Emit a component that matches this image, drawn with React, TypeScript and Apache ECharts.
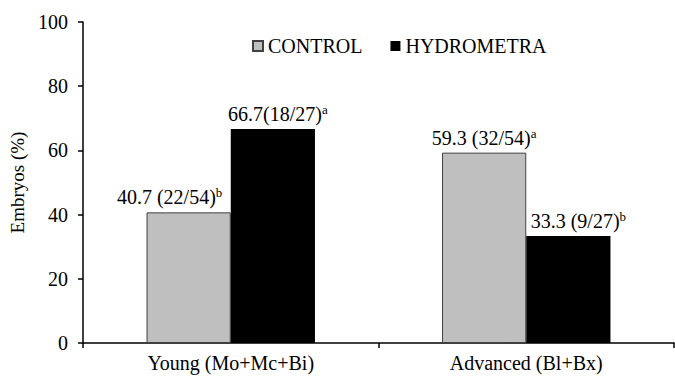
import React, { useEffect, useRef } from "react";
import * as echarts from "echarts";

const categories = ["Young (Mo+Mc+Bi)", "Advanced (Bl+Bx)"];
const controlValues = [40.7, 59.3];
const hydroValues = [66.7, 33.3];
const controlLabels = ["40.7 (22/54)", "59.3 (32/54)"];
const controlSup = ["b", "a"];
const hydroLabels = ["66.7(18/27)", "33.3 (9/27)"];
const hydroSup = ["a", "b"];
const yTicks = { min: 0, max: 100, interval: 20 };

// label horizontal nudges (style only)
const controlDx = [-19, 0];
const hydroDx = [5, 10];

const FONT = "Liberation Serif";
const CSS = `#root svg text, #root svg tspan { font-family: "Liberation Serif", "Times New Roman", serif !important; }`;

export default function App() {
  const ref = useRef<HTMLDivElement>(null);
  useEffect(() => {
    if (!ref.current) return;
    const chart = echarts.init(ref.current, undefined, { renderer: "svg" });
    const rich = {
      m: { fontSize: 20, fontFamily: FONT, color: "#000" },
      s: { fontSize: 13, fontFamily: FONT, color: "#000", padding: [0, 0, 9, 0] },
    };
    chart.setOption({
      animation: false,
      grid: { left: 83, right: 1, top: 22, bottom: 33 },
      legend: {
        left: 252,
        top: 36,
        padding: 0,
        itemWidth: 10,
        itemHeight: 10,
        itemGap: 28,
        icon: "rect",
        textStyle: { fontSize: 20, fontFamily: FONT, color: "#000" },
        data: ["CONTROL", "HYDROMETRA"],
      },
      xAxis: {
        type: "category",
        data: categories,
        axisLine: { lineStyle: { color: "#000", width: 1.5 } },
        axisTick: { show: true, length: 5, lineStyle: { color: "#000", width: 1.5 } },
        axisLabel: { fontSize: 20, fontFamily: FONT, color: "#000", margin: 10 },
      },
      yAxis: {
        type: "value",
        min: yTicks.min,
        max: yTicks.max,
        interval: yTicks.interval,
        name: "Embryos (%)",
        nameLocation: "middle",
        nameGap: 56,
        nameTextStyle: { fontSize: 19, fontFamily: FONT, color: "#000" },
        splitLine: { show: false },
        axisLine: { show: true, lineStyle: { color: "#000", width: 1.5 } },
        axisTick: { show: true, length: 5, lineStyle: { color: "#000", width: 1.5 } },
        axisLabel: { fontSize: 20, fontFamily: FONT, color: "#000", margin: 15 },
      },
      series: [
        {
          name: "CONTROL",
          type: "bar",
          data: controlValues.map((v, i) => ({ value: v, label: { offset: [controlDx[i], 0] } })),
          barGap: "0%",
          barCategoryGap: "43%",
          itemStyle: { color: "#bfbfbf", borderColor: "#404040", borderWidth: 1 },
          label: {
            show: true,
            position: "top",
            distance: 4,
            color: "#000",
            fontFamily: FONT,
            formatter: (p: any) => `{m|${controlLabels[p.dataIndex]}}{s|${controlSup[p.dataIndex]}}`,
            rich,
          },
        },
        {
          name: "HYDROMETRA",
          type: "bar",
          data: hydroValues.map((v, i) => ({ value: v, label: { offset: [hydroDx[i], 0] } })),
          itemStyle: { color: "#000" },
          label: {
            show: true,
            position: "top",
            distance: 4,
            color: "#000",
            fontFamily: FONT,
            formatter: (p: any) => `{m|${hydroLabels[p.dataIndex]}}{s|${hydroSup[p.dataIndex]}}`,
            rich,
          },
        },
      ],
    });
    return () => chart.dispose();
  }, []);
  return (
    <>
      <style>{CSS}</style>
      <div
        ref={ref}
        style={{ position: "absolute", left: 0, top: 0, width: 675, height: 376 }}
      />
    </>
  );
}
